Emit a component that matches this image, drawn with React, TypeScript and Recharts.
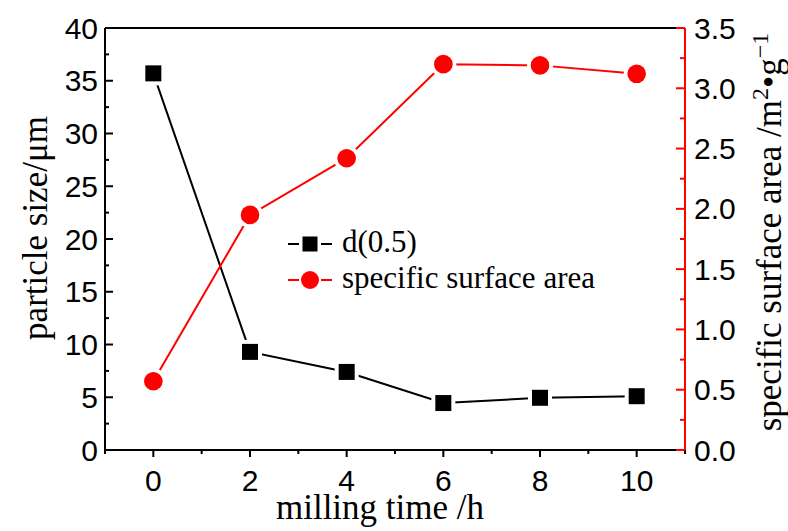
import { LineChart, Line, XAxis, YAxis, Legend, ReferenceLine } from "recharts";

const millingTime = [0, 2, 4, 6, 8, 10];
const particleSize = [35.7, 9.3, 7.4, 4.45, 4.95, 5.1];
const surfaceArea = [0.57, 1.95, 2.42, 3.2, 3.19, 3.12];

const xTicks = [-1, 0, 1, 2, 3, 4, 5, 6, 7, 8, 9, 10, 11];
const xLabels = [0, 2, 4, 6, 8, 10];
const leftTicks = [0, 2.5, 5, 7.5, 10, 12.5, 15, 17.5, 20, 22.5, 25, 27.5, 30, 32.5, 35, 37.5, 40];
const leftLabels = [0, 5, 10, 15, 20, 25, 30, 35, 40];
const rightTicks = [0, 0.25, 0.5, 0.75, 1, 1.25, 1.5, 1.75, 2, 2.25, 2.5, 2.75, 3, 3.25, 3.5];
const rightLabels = [0, 0.5, 1, 1.5, 2, 2.5, 3, 3.5];

const data = millingTime.map((t, i) => ({ t, size: particleSize[i], area: surfaceArea[i] }));

const SANS = "'Liberation Sans', Arial, sans-serif";
const SERIF = "'Liberation Serif', 'Times New Roman', serif";
const RED = "#ff0000";

function BottomTick({ x, y, payload }: any) {
  const v = payload.value;
  const major = xLabels.includes(v);
  return (
    <g>
      <line x1={x} x2={x} y1={y} y2={y + (major ? 7 : 4)} stroke="#000" strokeWidth={2} />
      {major && (
        <text x={x} y={y + 41} textAnchor="middle" fontFamily={SANS} fontSize={30} fill="#000">
          {v}
        </text>
      )}
    </g>
  );
}

function LeftTick({ x, y, payload }: any) {
  const v = payload.value;
  const major = leftLabels.includes(v);
  return (
    <g>
      <line x1={x} x2={x + (major ? 8 : 4)} y1={y} y2={y} stroke="#000" strokeWidth={2} />
      {major && (
        <text x={x - 7} y={y + 10.5} textAnchor="end" fontFamily={SANS} fontSize={30} fill="#000">
          {v}
        </text>
      )}
    </g>
  );
}

function RightTick({ x, y, payload }: any) {
  const v = payload.value;
  const major = rightLabels.includes(v);
  return (
    <g>
      <line x1={x} x2={x - (major ? 9 : 5)} y1={y} y2={y} stroke={RED} strokeWidth={2} />
      {major && (
        <text x={x + 9} y={y + 10.5} textAnchor="start" fontFamily={SANS} fontSize={30} fill="#000">
          {v.toFixed(1)}
        </text>
      )}
    </g>
  );
}

function SquareDot({ cx, cy, index }: any) {
  return (
    <g key={`sq-${index}`}>
      <rect x={cx - 12} y={cy - 12} width={24} height={24} fill="#fff" />
      <rect x={cx - 8} y={cy - 8} width={16} height={16} fill="#000" />
    </g>
  );
}

function CircleDot({ cx, cy, index }: any) {
  return (
    <g key={`ci-${index}`}>
      <circle cx={cx} cy={cy} r={13} fill="#fff" />
      <circle cx={cx} cy={cy} r={9.3} fill={RED} />
    </g>
  );
}

function LegendContent({ payload }: any) {
  return (
    <svg width={330} height={80}>
      {(payload || []).map((p: any, i: number) => {
        const cy = 22 + i * 36;
        const square = p.dataKey === "size";
        return (
          <g key={p.value}>
            <line x1={3} x2={14} y1={cy} y2={cy} stroke={p.color} strokeWidth={2} />
            <line x1={36} x2={47} y1={cy} y2={cy} stroke={p.color} strokeWidth={2} />
            {square ? (
              <rect x={17.5} y={cy - 7.5} width={15} height={15} fill={p.color} />
            ) : (
              <circle cx={25} cy={cy} r={9} fill={p.color} />
            )}
            <text x={57} y={cy + 8} fontFamily={SERIF} fontSize={31} fill="#000">
              {p.value}
            </text>
          </g>
        );
      })}
    </svg>
  );
}

export default function App() {
  return (
    <div style={{ position: "absolute", left: 0, top: 0, width: 788, height: 531, background: "#fff" }}>
      <LineChart width={788} height={531} data={data} margin={{ top: 28, right: 0, bottom: 0, left: 0 }}>
        <XAxis
          dataKey="t"
          type="number"
          domain={[-1, 11]}
          ticks={xTicks}
          interval={0}
          height={81}
          tickSize={0}
          tickMargin={0}
          tickLine={false}
          tick={<BottomTick />}
          axisLine={{ stroke: "#000", strokeWidth: 2 }}
          label={{
            content: () => (
              <text x={380} y={519} textAnchor="middle" fontFamily={SERIF} fontSize={35} fill="#000">
                milling time /h
              </text>
            ),
          }}
        />
        <YAxis
          yAxisId="left"
          type="number"
          domain={[0, 40]}
          ticks={leftTicks}
          interval={0}
          width={105}
          tickSize={0}
          tickMargin={0}
          tickLine={false}
          tick={<LeftTick />}
          axisLine={{ stroke: "#000", strokeWidth: 2 }}
          label={{
            content: () => (
              <text
                transform="translate(47,228) rotate(-90)"
                textAnchor="middle"
                fontFamily={SERIF}
                fontSize={35}
                fill="#000"
              >
                particle size/μm
              </text>
            ),
          }}
        />
        <YAxis
          yAxisId="right"
          orientation="right"
          type="number"
          domain={[0, 3.5]}
          ticks={rightTicks}
          interval={0}
          width={103}
          tickSize={0}
          tickMargin={0}
          tickLine={false}
          tick={<RightTick />}
          axisLine={{ stroke: RED, strokeWidth: 2 }}
          label={{
            content: () => (
              <text
                transform="translate(781,232) rotate(-90)"
                textAnchor="middle"
                fontFamily={SERIF}
                fontSize={35}
                fill="#000"
              >
                specific surface area /m
                <tspan dy={-13} fontSize={24}>2</tspan>
                <tspan dy={13}>•g</tspan>
                <tspan dy={-13} fontSize={24}>−1</tspan>
              </text>
            ),
          }}
        />
        <ReferenceLine yAxisId="left" y={40} stroke="#000" strokeWidth={2} />
        <Legend
          layout="vertical"
          align="center"
          verticalAlign="middle"
          content={<LegendContent />}
          wrapperStyle={{ left: 285, top: 222, width: 330, height: 80 }}
        />
        <Line
          yAxisId="left"
          dataKey="size"
          name="d(0.5)"
          stroke="#000"
          strokeWidth={2}
          dot={SquareDot}
          activeDot={false}
          isAnimationActive={false}
        />
        <Line
          yAxisId="right"
          dataKey="area"
          name="specific surface area"
          stroke={RED}
          strokeWidth={2}
          dot={CircleDot}
          activeDot={false}
          isAnimationActive={false}
        />
      </LineChart>
    </div>
  );
}
